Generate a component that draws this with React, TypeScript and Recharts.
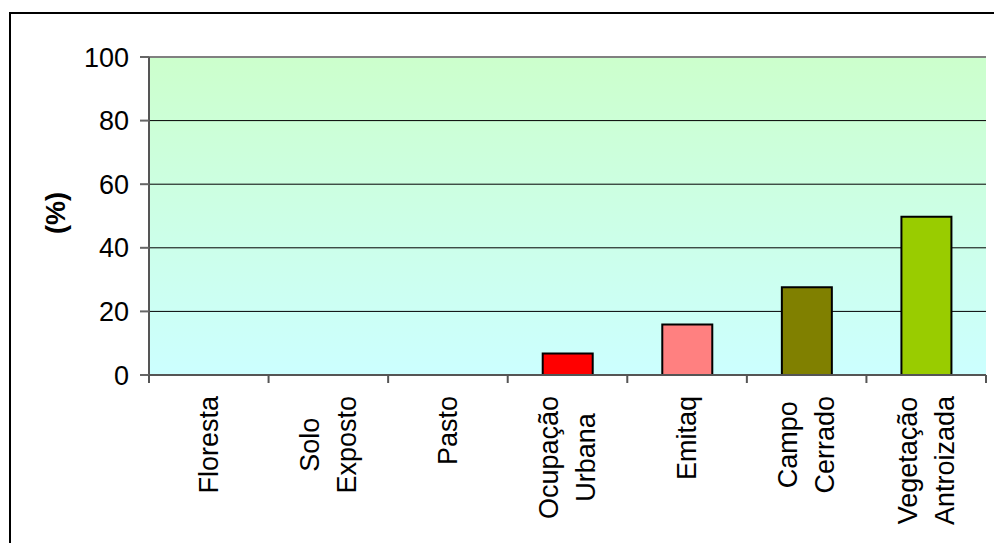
import React from "react";
import {
  Bar,
  BarChart,
  CartesianGrid,
  Cell,
  ReferenceLine,
  XAxis,
  YAxis
} from "recharts";

const categories = [
  "Floresta",
  "Solo Exposto",
  "Pasto",
  "Ocupação Urbana",
  "Emitaq",
  "Campo Cerrado",
  "Vegetação Antroizada"
];
const percentages = [0, 0, 0, 6.8, 15.9, 27.6, 49.8];
const barColors = ["#008000", "#996633", "#FFFF00", "#FF0000", "#FF8080", "#808000", "#99CC00"];
const yTicks = [0, 20, 40, 60, 80, 100];

const FONT = "'Liberation Sans', Arial, sans-serif";
const FONT_SIZE = 27;

const data = categories.map((name, i) => ({ name, pct: percentages[i] }));

let measureCtx: CanvasRenderingContext2D | null = null;
const textWidth = (s: string) => {
  if (!measureCtx) {
    measureCtx = document.createElement("canvas").getContext("2d");
  }
  if (!measureCtx) return s.length * FONT_SIZE * 0.55;
  measureCtx.font = `${FONT_SIZE}px ${FONT}`;
  return measureCtx.measureText(s).width;
};

//@ts-ignore
const CategoryTick = ({ x, y, payload, index }) => {
  const half = payload.offset || 0;
  const lines = String(payload.value).split(" ");
  const longest = Math.max(...lines.map(textWidth));
  const gap = 21; // distance from axis to start of label
  const spacing = 37;
  return (
    <g transform={`translate(${x},${y})`}>
      <line x1={-half} y1={0} x2={-half} y2={8} stroke="#555" strokeWidth={2} />
      {index === categories.length - 1 && (
        <line x1={half} y1={0} x2={half} y2={8} stroke="#555" strokeWidth={2} />
      )}
      <text
        transform="rotate(-90)"
        textAnchor="middle"
        fontFamily={FONT}
        fontSize={FONT_SIZE}
        fill="#000"
      >
        {lines.map((l, i) => (
          <tspan
            key={i}
            x={-(gap + longest / 2)}
            y={9 + (i - (lines.length - 1) / 2) * spacing}
          >
            {l}
          </tspan>
        ))}
      </text>
    </g>
  );
};

export default function App() {
  return (
    <div
      style={{
        position: "absolute",
        left: 0,
        top: 0,
        width: 994,
        height: 543,
        overflow: "hidden",
        background: "#fff"
      }}
    >
      <div
        style={{
          position: "absolute",
          left: 9,
          top: 12,
          width: 1000,
          height: 529,
          borderTop: "2px solid #000",
          borderLeft: "2px solid #000",
          borderBottom: "2px solid #000"
        }}
      />
      <div style={{ position: "absolute", left: 0, top: 0 }}>
        <BarChart
          width={994}
          height={543}
          data={data}
          margin={{ top: 57, right: 8, left: 0, bottom: 8 }}
        >
          <defs>
            <linearGradient id="plotBg" x1="0" y1="0" x2="0" y2="1">
              <stop offset="0%" stopColor="#CCFFCC" />
              <stop offset="100%" stopColor="#CCFFFF" />
            </linearGradient>
          </defs>
          <CartesianGrid
            vertical={false}
            stroke="#000"
            strokeWidth={1}
            fill="url(#plotBg)"
            fillOpacity={1}
          />
          <XAxis
            dataKey="name"
            height={160}
            interval={0}
            axisLine={{ stroke: "#555", strokeWidth: 2 }}
            tickLine={false}
            tickSize={0}
            tickMargin={0}
            tick={
              //@ts-ignore
              <CategoryTick />
            }
          />
          <YAxis
            width={149}
            domain={[0, 100]}
            ticks={yTicks}
            interval={0}
            axisLine={{ stroke: "#555", strokeWidth: 2 }}
            tickLine={{ stroke: "#666", strokeWidth: 2 }}
            tickSize={9}
            tickMargin={11}
            tick={{ fill: "#000", fontSize: 27, fontFamily: FONT }}
            label={{
              content: () => (
                <text
                  transform="translate(65,213) rotate(-90)"
                  textAnchor="middle"
                  fontFamily={FONT}
                  fontSize={27}
                  fontWeight="bold"
                  fill="#000"
                >
                  (%)
                </text>
              )
            }}
          />
          <YAxis
            yAxisId="right"
            orientation="right"
            width={0}
            domain={[0, 100]}
            tick={false}
            tickLine={false}
            axisLine={{ stroke: "#808080", strokeWidth: 2 }}
          />
          <ReferenceLine y={100} stroke="#808080" strokeWidth={2} />
          <Bar
            dataKey="pct"
            barSize={50}
            stroke="#000"
            strokeWidth={2}
            isAnimationActive={false}
          >
            {data.map((d, i) => (
              <Cell key={d.name} fill={barColors[i]} />
            ))}
          </Bar>
        </BarChart>
      </div>
    </div>
  );
}
